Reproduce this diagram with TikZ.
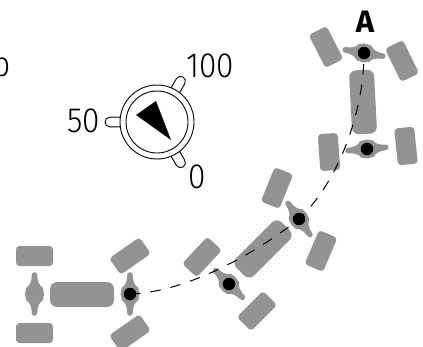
\documentclass[tikz,border=0pt]{standalone}
\usepackage{fontspec}
\setmainfont{Fira Sans}
\newfontfamily\numfont{Fira Sans Light}
\definecolor{machine}{HTML}{939393}
\tikzset{
  wheelbox/.style={fill=machine,draw=none,rounded corners=3.5pt,minimum width=37pt,minimum height=20pt,inner sep=0pt,outer sep=0pt},
  bodybox/.style={fill=machine,draw=none,rounded corners=7pt,minimum width=64pt,minimum height=25pt,inner sep=0pt,outer sep=0pt},
  hub/.style={circle,fill=black,draw=none,minimum size=12.5pt,inner sep=0pt,outer sep=0pt},
  lobe/.style={draw=black,fill=white,line width=0.9pt,rounded corners=4.9pt},
  ring/.style={circle,draw=black,fill=white,line width=0.9pt,inner sep=0pt,outer sep=0pt},
  track/.style={draw=black,line width=1pt,dash pattern=on 10.5pt off 10pt},
  numlabel/.style={inner sep=0pt,outer sep=0pt,font=\numfont\fontsize{35pt}{35pt}\selectfont,xscale=0.9,text=black}
}
\newcommand{\axlespindle}[3]{%
  \begin{scope}[shift={(#1,#2)},rotate=#3]
    \fill[machine] (0,0) circle[radius=9.5];
    \fill[machine] (-19,-2.8) arc[start angle=270,end angle=90,radius=2.8]
      .. controls (-15,3) and (-13,3.4) .. (-11,4.2)
      .. controls (-9,5) and (-8,6) .. (-6,8.5)
      -- (6,8.5)
      .. controls (8,6) and (9,5) .. (11,4.2)
      .. controls (13,3.4) and (15,3) .. (19,2.8)
      arc[start angle=90,end angle=-90,radius=2.8]
      .. controls (15,-3) and (13,-3.4) .. (11,-4.2)
      .. controls (9,-5) and (8,-6) .. (6,-8.5)
      -- (-6,-8.5)
      .. controls (-8,-6) and (-9,-5) .. (-11,-4.2)
      .. controls (-13,-3.4) and (-15,-3) .. (-19,-2.8) -- cycle;
  \end{scope}}
\newcommand{\gaugelobe}[1]{%
  \begin{scope}[shift={(157,224)},rotate=#1]
    \draw[lobe] (30,-4.9) -- (52,-4.9) -- (52,4.9) -- (30,4.9);
  \end{scope}}
\begin{document}
\begin{tikzpicture}[x=1pt,y=1pt]
\useasboundingbox (0,0) rectangle (423,346);
% tractor 1
\node[wheelbox] (w1a) at (34.5,90) {};
\node[wheelbox] (w1b) at (34.5,13) {};
\node[wheelbox,rotate=35] (w1c) at (130,90) {};
\node[wheelbox,rotate=35] (w1d) at (130,13) {};
\node[bodybox] (b1) at (82,51.5) {};
\axlespindle{34.5}{52}{90}
\axlespindle{130}{52}{90}
% tractor 2
\node[wheelbox,rotate=47] (w2a) at (202,89) {};
\node[wheelbox,rotate=45] (w2b) at (257,35) {};
\node[bodybox,rotate=45] (b2) at (263,97) {};
\node[wheelbox,rotate=68] (w2c) at (277,158) {};
\node[wheelbox,rotate=67] (w2d) at (321,95) {};
\axlespindle{229}{62}{-45}
\axlespindle{299}{127}{-55}
% tractor 3
\node[wheelbox,rotate=-63] (w3a) at (326,299) {};
\node[wheelbox,rotate=-64] (w3b) at (402,285) {};
\node[bodybox,rotate=-87] (b3) at (363,244) {};
\node[wheelbox,rotate=-86] (w3c) at (329,194) {};
\node[wheelbox,rotate=-84] (w3d) at (406,200) {};
\axlespindle{364}{293}{-9.5}
\axlespindle{367}{197}{5}
% hubs
\node[hub] (h1) at (130,52) {};
\node[hub] (h2) at (229,62) {};
\node[hub] (h3) at (299,127) {};
\node[hub] (h4) at (367,197) {};
\node[hub] (h5) at (364,293) {};
% track
\draw[track] (h1.center) .. controls (190,54) and (260,96) .. (h3.center)
  .. controls (340,166) and (364,236) .. (h5.center);
% gauge
\gaugelobe{60}
\gaugelobe{180}
\gaugelobe{-60}
\node[ring,minimum size=74pt] (outer) at (157,224) {};
\node[ring,minimum size=62pt] (inner) at (157,224) {};
\fill[black] (136,231) -- (156,245) -- (171,206) -- cycle;
% labels
\node[numlabel,anchor=base east] (l100) at (234,268) {100};
\node[numlabel,anchor=base east] (l50) at (100,213) {50};
\node[numlabel,anchor=base east] (l0) at (206,158) {0};
\node[numlabel,anchor=base east] (lb) at (11,269) {b};
\node[inner sep=0pt,outer sep=0pt,font=\fontsize{31pt}{31pt}\selectfont\bfseries,anchor=base] (lA) at (365,313) {A};
\end{tikzpicture}
\end{document}
